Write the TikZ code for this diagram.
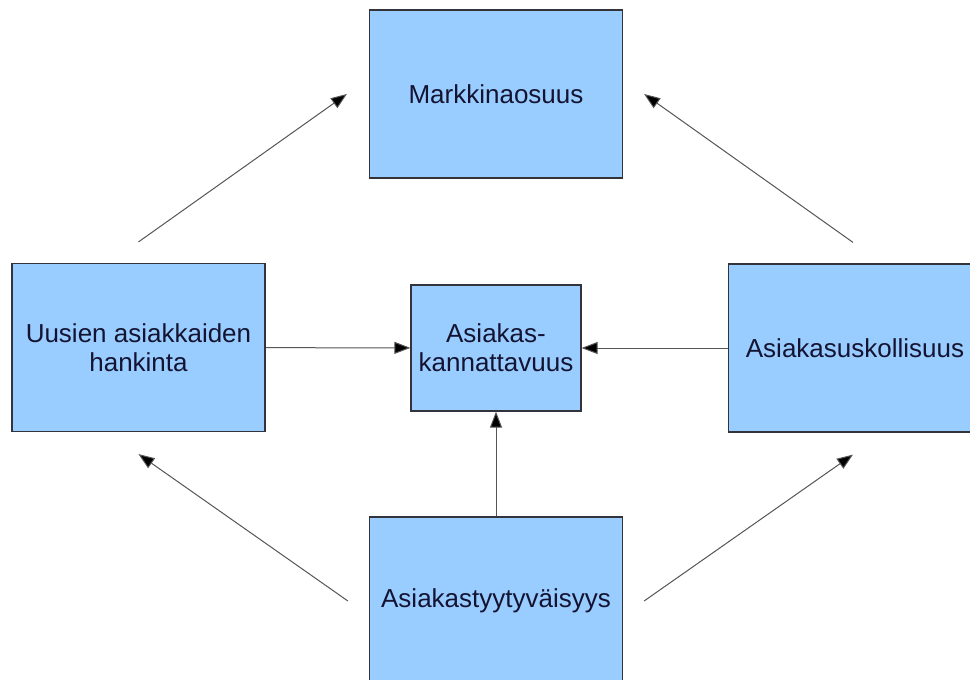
\documentclass[tikz,border=0pt]{standalone}
\usepackage{fontspec}
\setmainfont{Liberation Sans}
\usetikzlibrary{arrows.meta,calc}
\definecolor{boxblue}{RGB}{153,204,255}
\definecolor{boxline}{RGB}{51,51,60}
\definecolor{txtcol}{RGB}{20,20,50}
\definecolor{linegray}{RGB}{85,85,85}
\begin{document}
\begin{tikzpicture}[x=1pt, y=-1pt]
    \tikzstyle{bigbox} = [rectangle, draw=boxline, line width=1.2pt, fill=boxblue, text=txtcol, align=center, minimum width=253pt, minimum height=168pt, inner sep=0pt, font=\fontsize{26}{29}\selectfont]
    \tikzstyle{smallbox} = [bigbox, minimum width=170pt, minimum height=126pt]
    \tikzstyle{arrow} = [draw=linegray, line width=1pt, -{Triangle[length=16pt, width=12pt, fill=black]}]

    \useasboundingbox (0,0) rectangle (970,680);
    \clip (0,0) rectangle (970,680);

    % Boxes
    \node [bigbox] (markt) at (496,94) {Markkinaosuus};
    \node [bigbox] (uusien) at (138.5,347.5) {Uusien asiakkaiden\\hankinta};
    \node [smallbox] (kann) at (496,348) {Asiakas-\\kannattavuus};
    \node [bigbox] (uskol) at (855,348) {Asiakasuskollisuus};
    \node [bigbox] (tyyty) at (496,601) {Asiakastyytyväisyys};

    % Free ends of the diagonal arrows
    \coordinate (ul1) at ($(uusien.north)+(0,-21)$);
    \coordinate (ul2) at ($(markt.west)+(-22,0)$);
    \coordinate (ur1) at ($(uskol.north)+(-2,-21)$);
    \coordinate (ur2) at ($(markt.east)+(21,0)$);
    \coordinate (ll1) at ($(tyyty.west)+(-21,0)$);
    \coordinate (ll2) at ($(uusien.south)+(0,22)$);
    \coordinate (lr1) at ($(tyyty.east)+(21,0)$);
    \coordinate (lr2) at ($(uskol.south)+(-2,22)$);

    \draw [arrow] (uusien) -- (kann);
    \draw [arrow] (uskol) -- (kann);
    \draw [arrow] (tyyty) -- (kann);

    \draw [arrow] (ul1) -- (ul2);
    \draw [arrow] (ur1) -- (ur2);
    \draw [arrow] (ll1) -- (ll2);
    \draw [arrow] (lr1) -- (lr2);
\end{tikzpicture}
\end{document}
